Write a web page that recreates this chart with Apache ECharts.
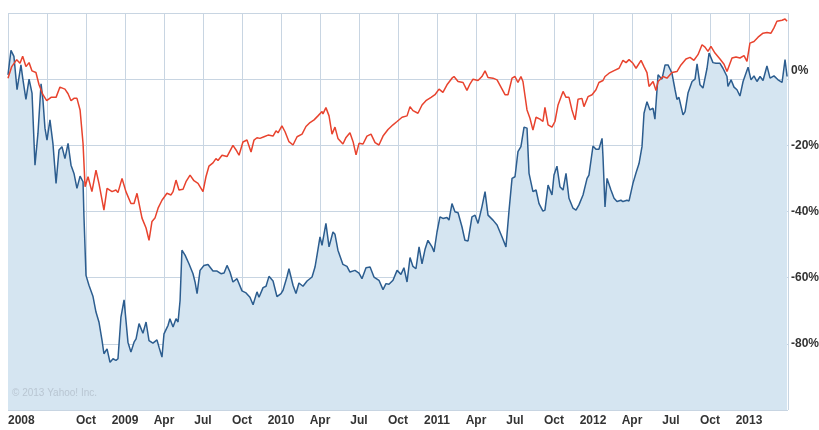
<!DOCTYPE html>
<html>
<head>
<meta charset="utf-8">
<script src="https://cdn.jsdelivr.net/npm/echarts@6/dist/echarts.min.js"></script>
<style>
  html, body { margin: 0; padding: 0; background: #fff; }
  #chart { width: 819px; height: 430px; }
</style>
</head>
<body>
<div id="chart"></div>
<script>
// x values are decimal years (2008.25 = start of Apr 2008)
const redDates = [2008.250,2008.274,2008.306,2008.327,2008.344,2008.365,2008.385,2008.404,2008.429,2008.449,2008.474,2008.498,2008.526,2008.558,2008.583,2008.615,2008.635,2008.654,2008.673,2008.692,2008.712,2008.731,2008.744,2008.763,2008.788,2008.814,2008.833,2008.865,2008.885,2008.917,2008.942,2008.955,2008.981,2009.006,2009.038,2009.058,2009.077,2009.109,2009.135,2009.154,2009.173,2009.192,2009.212,2009.237,2009.269,2009.295,2009.308,2009.327,2009.346,2009.372,2009.391,2009.417,2009.442,2009.468,2009.500,2009.519,2009.538,2009.564,2009.583,2009.596,2009.622,2009.654,2009.692,2009.712,2009.731,2009.756,2009.782,2009.808,2009.827,2009.846,2009.865,2009.891,2009.917,2009.949,2009.968,2009.981,2010.006,2010.026,2010.051,2010.077,2010.103,2010.135,2010.160,2010.186,2010.212,2010.237,2010.263,2010.269,2010.288,2010.308,2010.327,2010.346,2010.365,2010.397,2010.417,2010.442,2010.462,2010.481,2010.500,2010.526,2010.551,2010.577,2010.603,2010.628,2010.654,2010.686,2010.718,2010.744,2010.776,2010.808,2010.827,2010.846,2010.878,2010.904,2010.929,2010.962,2010.987,2011.013,2011.038,2011.064,2011.096,2011.109,2011.135,2011.167,2011.192,2011.212,2011.231,2011.263,2011.288,2011.308,2011.327,2011.359,2011.385,2011.417,2011.436,2011.455,2011.481,2011.500,2011.519,2011.538,2011.551,2011.577,2011.596,2011.615,2011.635,2011.660,2011.679,2011.692,2011.712,2011.737,2011.756,2011.776,2011.808,2011.827,2011.846,2011.865,2011.885,2011.904,2011.929,2011.942,2011.968,2011.994,2012.019,2012.038,2012.064,2012.077,2012.103,2012.135,2012.167,2012.192,2012.212,2012.231,2012.256,2012.276,2012.308,2012.327,2012.346,2012.359,2012.385,2012.404,2012.417,2012.449,2012.474,2012.506,2012.538,2012.564,2012.596,2012.622,2012.647,2012.673,2012.699,2012.718,2012.737,2012.756,2012.782,2012.814,2012.840,2012.859,2012.891,2012.917,2012.942,2012.968,2012.987,2013.006,2013.032,2013.058,2013.090,2013.115,2013.141,2013.160,2013.179,2013.212,2013.231,2013.244];
const redValues = [0.3,3.8,5.9,4.8,6.9,3.8,5,2.5,2,-1.7,-4.7,-6.5,-5.5,-5.5,-2.4,-3,-4.4,-6.5,-5.8,-5.8,-9.3,-19.4,-32.5,-29.5,-34,-27.5,-31.5,-39.6,-33,-34,-33.5,-34.3,-30,-34,-37.6,-37.6,-34.5,-42,-45,-48.7,-43,-42,-39,-36.6,-34.5,-35,-34,-30.5,-33.5,-33.3,-31,-29,-30.7,-31.5,-34,-29.5,-26.3,-25.3,-24,-24.6,-23,-23.4,-20,-21.4,-23,-19,-18.4,-22,-18.4,-17.7,-17.9,-17.4,-16.9,-17.2,-15.6,-16.2,-14.1,-15.9,-18.9,-19.9,-17.4,-16.6,-14.3,-13.1,-12.3,-11.1,-9.8,-10.5,-8.6,-11.1,-16.6,-14.5,-17.9,-19.6,-17.6,-16.2,-18.9,-22.9,-19.4,-19.6,-17.2,-16.6,-19.2,-19.9,-17.2,-15.2,-13.8,-12.8,-11.5,-11.1,-8.3,-9.5,-10.3,-7.8,-6.5,-5.5,-4.7,-3,-4,-1.7,0.3,0.8,-0.7,-1,-3.4,-1.4,0,-0.4,0.8,2.5,0.5,0.3,-0.2,-3,-4.7,-4.7,0.3,0.8,-1,0.8,-0.7,-9.3,-11.8,-15.4,-11.5,-12.1,-12.8,-8.5,-13.8,-14.5,-12.8,-7.8,-3.7,-5.5,-5.5,-9.3,-12.3,-6.1,-5.8,-8.3,-5.3,-4.7,-3.2,-1,-0.4,0.8,1.8,2.6,3.3,5.7,5,5.9,4.8,3.3,5.7,3.8,2,-2.2,-0.7,-3.4,-0.7,0.8,0.3,2,2.3,4.3,6.1,6.6,5.7,7.4,10.4,9.7,8.4,9.9,7.9,6.1,4.5,2.3,6.4,6.7,6.4,7.1,5.4,10.9,11.4,12.7,13.9,14.1,13.9,15.5,17.5,17.8,18.2,17.5];

const blueDates = [2008.250,2008.269,2008.288,2008.308,2008.333,2008.346,2008.365,2008.385,2008.404,2008.423,2008.442,2008.462,2008.474,2008.487,2008.500,2008.519,2008.538,2008.558,2008.577,2008.596,2008.615,2008.635,2008.654,2008.673,2008.692,2008.712,2008.731,2008.737,2008.750,2008.769,2008.795,2008.814,2008.833,2008.853,2008.865,2008.885,2008.904,2008.923,2008.942,2008.955,2008.974,2008.994,2009.019,2009.038,2009.058,2009.071,2009.090,2009.115,2009.135,2009.154,2009.179,2009.205,2009.218,2009.237,2009.250,2009.276,2009.288,2009.308,2009.327,2009.340,2009.353,2009.365,2009.385,2009.410,2009.436,2009.449,2009.462,2009.481,2009.506,2009.532,2009.564,2009.590,2009.615,2009.635,2009.654,2009.673,2009.692,2009.718,2009.750,2009.776,2009.801,2009.821,2009.846,2009.859,2009.885,2009.904,2009.923,2009.949,2009.974,2010.000,2010.013,2010.038,2010.051,2010.077,2010.096,2010.115,2010.141,2010.167,2010.199,2010.218,2010.231,2010.250,2010.263,2010.288,2010.308,2010.333,2010.346,2010.365,2010.397,2010.423,2010.442,2010.474,2010.500,2010.519,2010.545,2010.571,2010.596,2010.628,2010.654,2010.673,2010.692,2010.718,2010.744,2010.769,2010.788,2010.808,2010.827,2010.846,2010.865,2010.885,2010.904,2010.923,2010.942,2010.968,2010.981,2011.000,2011.019,2011.038,2011.064,2011.077,2011.096,2011.115,2011.135,2011.160,2011.179,2011.199,2011.224,2011.244,2011.263,2011.288,2011.308,2011.327,2011.359,2011.385,2011.417,2011.442,2011.462,2011.481,2011.500,2011.519,2011.538,2011.558,2011.577,2011.590,2011.615,2011.635,2011.654,2011.679,2011.692,2011.712,2011.737,2011.750,2011.769,2011.788,2011.808,2011.827,2011.846,2011.872,2011.891,2011.910,2011.936,2011.962,2011.974,2012.000,2012.019,2012.038,2012.058,2012.064,2012.077,2012.090,2012.115,2012.135,2012.154,2012.179,2012.192,2012.218,2012.231,2012.256,2012.276,2012.295,2012.314,2012.327,2012.346,2012.365,2012.385,2012.397,2012.417,2012.442,2012.462,2012.481,2012.506,2012.526,2012.538,2012.551,2012.577,2012.590,2012.609,2012.635,2012.654,2012.667,2012.686,2012.705,2012.731,2012.744,2012.769,2012.788,2012.814,2012.833,2012.859,2012.865,2012.885,2012.904,2012.923,2012.942,2012.962,2012.994,2013.013,2013.032,2013.051,2013.071,2013.090,2013.115,2013.135,2013.160,2013.186,2013.212,2013.231,2013.244];
const blueValues = [1.3,8.7,6.9,-3.2,4.3,-0.2,-6.1,0,-4.2,-26,-16.4,-1.4,-6.3,-14.8,-18.4,-12.3,-19.4,-31.5,-21.4,-20.4,-24,-19.4,-26,-28.5,-33,-29.3,-31,-41.6,-59.3,-62.3,-65.7,-70.4,-73.4,-79,-83,-81.5,-85.6,-84.5,-85,-84.5,-71.9,-66.7,-79.5,-82.5,-79.5,-78.5,-73.9,-76.8,-73.4,-79,-79.8,-78.8,-81,-84,-77,-74.4,-72.4,-74.9,-72.4,-73.4,-66.9,-51.7,-53.2,-55.8,-58.8,-61.3,-64.8,-57.8,-56.3,-56,-58,-58,-58.8,-58.6,-56.3,-58.3,-61.3,-60.3,-64,-64.6,-65.9,-68.2,-64.3,-65.9,-63,-62.6,-59.6,-61,-65.7,-64.8,-63.8,-59.8,-57.3,-62.3,-64.8,-61.6,-62.6,-61,-59.8,-56.8,-53.2,-47.7,-50.2,-43.6,-50.7,-46.2,-46.9,-51.7,-56,-56.6,-58.3,-57.8,-58.6,-60.3,-57,-56.8,-59.8,-60.8,-63.6,-61.8,-62,-60.8,-57.8,-59,-57,-61.3,-53.9,-56.6,-57.3,-50.7,-55.8,-51.5,-48.7,-50.7,-52.2,-46.2,-41.6,-42.1,-41.8,-42.6,-37.6,-40.1,-40.4,-44.6,-48.7,-48.9,-41.6,-41.1,-43.6,-38.6,-34,-41.1,-42.6,-44.1,-47.7,-50.7,-39.6,-30,-29.5,-21.9,-20.4,-14.5,-14.8,-28.5,-34,-33.5,-37.6,-39.9,-39.6,-32,-35,-29,-26.3,-32.5,-33.5,-28.5,-36,-39,-39.6,-38,-35,-30,-29,-20.2,-21.2,-21.2,-17.9,-23.4,-38.6,-30,-33.5,-36,-37,-36.6,-37,-36.6,-36.8,-31.5,-28.3,-25.5,-20.4,-10.3,-6.8,-9.3,-8.8,-12.1,1.3,0,4.3,4.3,1.8,-3.2,-6.1,-5.5,-10.8,-9.8,-4.2,-0.7,0,4.6,-1.7,-2.7,3.3,7.9,5,4.8,4.8,3.3,0.8,-2.2,-0.2,-2.4,-3.2,-5.1,-0.7,3.6,-0.2,1,-0.7,0.8,-0.4,4,0.3,1,-0.2,-1,5.9,0.8];

const monthNames = ['', 'Apr', 'Jul', 'Oct'];
const hiddenXLabels = [2008.5, 2013.25];
const shownYTicks = [0, -20, -40, -60, -80];

const pair = (xs, ys) => xs.map((x, i) => [x, ys[i]]);
const labelFont = "'Liberation Sans', Arial, sans-serif";

const chart = echarts.init(document.getElementById('chart'));
chart.setOption({
  animation: false,
  backgroundColor: '#fff',
  grid: { left: 8, right: 31, top: 13, bottom: 20, outerBoundsMode: 'none' },
  xAxis: {
    type: 'value',
    min: 2008.25,
    max: 2013.25,
    interval: 0.25,
    axisLine: { show: false },
    axisTick: { show: false },
    splitLine: { show: true, lineStyle: { color: '#c8d5e2', width: 1 } },
    axisLabel: {
      color: '#333',
      fontFamily: labelFont,
      fontWeight: 'bold',
      fontSize: 12,
      margin: 5,
      alignMinLabel: 'left',
      formatter: function (v) {
        if (hiddenXLabels.some(h => Math.abs(h - v) < 1e-6)) return '';
        if (Math.abs(v - 2008.25) < 1e-6) return '2008';
        const q = Math.round((v - Math.floor(v + 1e-6)) * 4);
        return q === 0 ? String(Math.round(v)) : monthNames[q];
      }
    }
  },
  yAxis: {
    type: 'value',
    position: 'right',
    min: -100,
    max: 20,
    interval: 20,
    axisLine: { show: false },
    axisTick: { show: false },
    splitLine: { show: true, lineStyle: { color: '#c8d5e2', width: 1 } },
    axisLabel: {
      color: '#333',
      fontFamily: labelFont,
      fontWeight: 'bold',
      fontSize: 12,
      margin: 3,
      formatter: function (v) {
        if (shownYTicks.indexOf(v) < 0) return '';
        return v === 0 ? '{up|0%}' : v + '%';
      },
      rich: {
        up: {
          color: '#333',
          fontFamily: labelFont,
          fontWeight: 'bold',
          fontSize: 12,
          padding: [0, 0, 16, 0]
        }
      }
    }
  },
  graphic: [{
    type: 'text',
    left: 12,
    top: 388,
    z: 100,
    style: { text: '\u00a9 2013 Yahoo! Inc.', fill: '#b9c6d2', font: '10px "Liberation Sans", sans-serif' }
  }],
  series: [
    {
      name: 'stock',
      type: 'line',
      data: pair(blueDates, blueValues),
      showSymbol: false,
      lineStyle: { color: '#2c5d8f', width: 1.5 },
      areaStyle: { color: '#d5e5f1', opacity: 1, origin: 'start' },
      z: 2
    },
    {
      name: 'index',
      type: 'line',
      data: pair(redDates, redValues),
      showSymbol: false,
      lineStyle: { color: '#e8432e', width: 1.5 },
      z: 3
    }
  ]
});
</script>
</body>
</html>
